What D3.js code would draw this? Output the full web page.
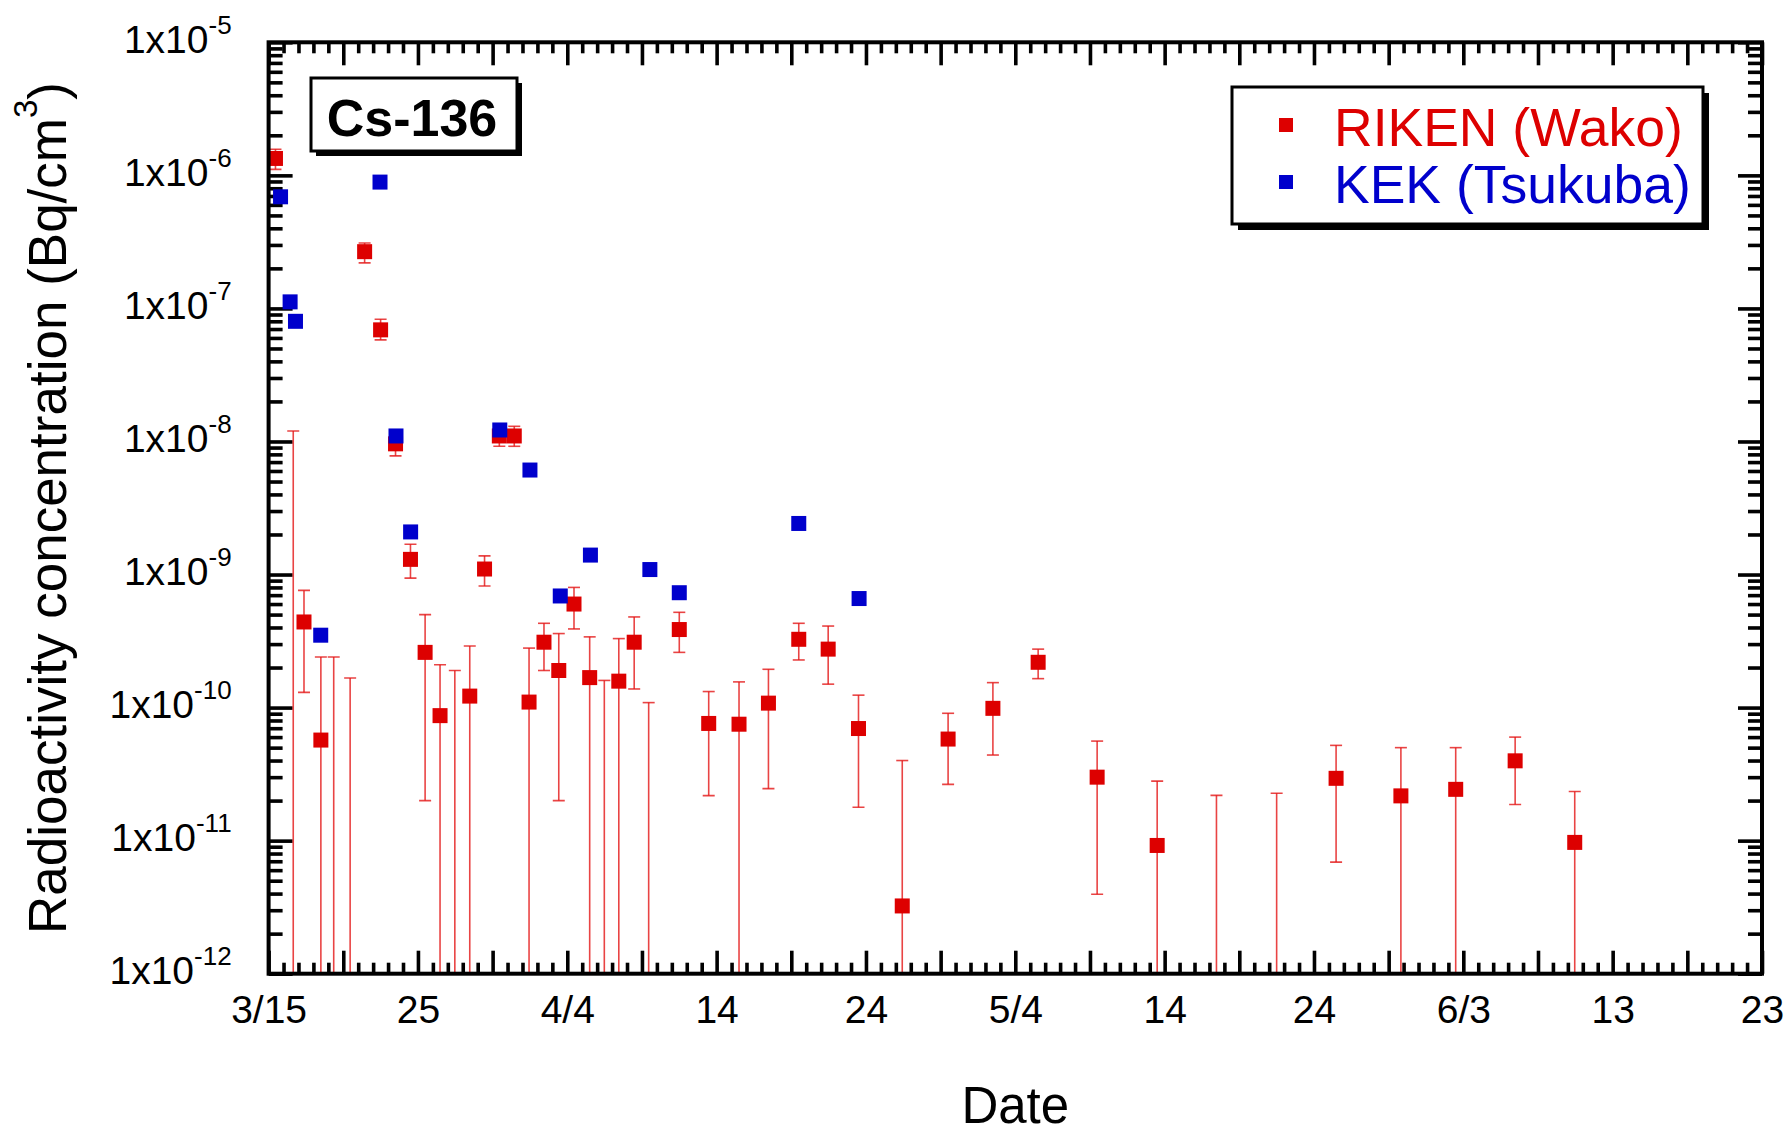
<!DOCTYPE html>
<html><head><meta charset="utf-8">
<script src="https://cdn.jsdelivr.net/npm/d3@7"></script>
<style>
body{margin:0;background:#fff}
svg{display:block}
text{font-family:"Liberation Sans",Arial,Helvetica,sans-serif}
</style>
</head><body>
<svg id="c" width="1792" height="1134"></svg>
<script>
// ---- tick labels ----
const xTickDays = [0,10,20,30,40,50,60,70,80,90,100];
const xTickLabels = ["3/15","25","4/4","14","24","5/4","14","24","6/3","13","23"];
const yTickExponents = [-12,-11,-10,-9,-8,-7,-6,-5];

// ---- RIKEN (Wako): days since 3/15, value, upper and lower error bounds (0 = below axis) ----
const rikenDay = [0.46,1.65,2.37,3.5,4.36,5.46,6.43,7.5,8.5,9.5,10.48,11.48,12.47,13.47,14.46,15.45,16.45,17.44,18.44,19.43,20.45,21.5,22.48,23.45,24.48,25.45,27.5,29.47,31.5,33.47,35.5,37.47,39.5,42.43,45.5,48.5,51.53,55.48,59.5,63.47,67.5,71.48,75.82,79.49,83.47,87.46];
const rikenValue = [1.34e-6,null,4.4e-10,5.7e-11,null,null,2.67e-7,6.9e-8,9.6e-9,1.3e-9,2.6e-10,8.7e-11,null,1.22e-10,1.1e-9,1.1e-8,1.1e-8,1.1e-10,3.1e-10,1.9e-10,6.0e-10,1.68e-10,null,1.58e-10,3.1e-10,null,3.86e-10,7.6e-11,7.5e-11,1.08e-10,3.26e-10,2.75e-10,6.96e-11,3.23e-12,5.8e-11,9.87e-11,2.19e-10,3.0e-11,9.2e-12,null,null,2.94e-11,2.17e-11,2.43e-11,3.98e-11,9.7e-12];
const rikenUpper = [1.57e-6,1.2e-8,7.6e-10,2.4e-10,2.4e-10,1.67e-10,3.1e-7,8.3e-8,1.15e-8,1.69e-9,5.0e-10,2.1e-10,1.9e-10,2.9e-10,1.38e-9,1.3e-8,1.3e-8,2.8e-10,4.3e-10,3.6e-10,8.0e-10,3.4e-10,1.6e-10,3.3e-10,4.8e-10,1.09e-10,5.2e-10,1.32e-10,1.56e-10,1.94e-10,4.3e-10,4.1e-10,1.24e-10,4.0e-11,9.06e-11,1.54e-10,2.75e-10,5.6e-11,2.8e-11,2.19e-11,2.27e-11,5.2e-11,5.0e-11,5.0e-11,6.0e-11,2.34e-11];
const rikenLower = [1.11e-6,0,1.3e-10,0,0,0,2.2e-7,5.8e-8,7.8e-9,9.4e-10,2.0e-11,0,0,0,8.2e-10,9.2e-9,9.2e-9,0,1.9e-10,2.0e-11,3.9e-10,0,0,0,1.38e-10,0,2.6e-10,2.18e-11,0,2.46e-11,2.28e-10,1.5e-10,1.78e-11,0,2.65e-11,4.4e-11,1.65e-10,3.95e-12,0,0,0,6.9e-12,0,0,1.87e-11,0];

// ---- KEK (Tsukuba) ----
const kekDay = [0.8,1.44,1.8,3.49,7.46,8.53,9.51,15.48,17.5,19.53,21.55,25.53,27.5,35.5,39.54];
const kekValue = [6.9e-7,1.12e-7,8.0e-8,3.5e-10,8.9e-7,1.1e-8,2.09e-9,1.22e-8,6.1e-9,6.9e-10,1.4e-9,1.09e-9,7.3e-10,2.42e-9,6.6e-10];

const seriesNames = ["RIKEN (Wako)","KEK (Tsukuba)"];
const RED = "#dd0000", BLUE = "#0000cc";

const svg = d3.select("#c");
const L = 268.6, R = 1762, T = 42.3, B = 973.7;
const x = d3.scaleLinear().domain([0,100]).range([L,R]);
const y = d3.scaleLog().domain([1e-12,1e-5]).range([B,T]);

// ---- ticks ----
const majorDays = d3.range(0,101,5);
const minorDays = d3.range(0,101).filter(d => d % 5 !== 0);
const decades = yTickExponents.map(e => Math.pow(10,e));
const minorVals = [];
yTickExponents.slice(0,-1).forEach(e => { for (let m=2;m<=9;m++) minorVals.push(m*Math.pow(10,e)); });

function styleAxis(g){
  g.select(".domain").remove();
  g.selectAll(".tick line").attr("stroke","#000").attr("stroke-width",3.6);
}
const labelOf = d => { const i = xTickDays.indexOf(d); return i >= 0 ? xTickLabels[i] : ""; };

const gxb = svg.append("g").attr("transform",`translate(0,${B})`)
  .call(d3.axisBottom(x).tickValues(majorDays).tickSize(-23).tickFormat(labelOf));
styleAxis(gxb);
gxb.selectAll(".tick text").attr("y",49).attr("dy",0).attr("font-size",39).attr("fill","#000")
  .style("font-family","'Liberation Sans',Arial,sans-serif");
styleAxis(svg.append("g").attr("transform",`translate(0,${B})`)
  .call(d3.axisBottom(x).tickValues(minorDays).tickSize(-11).tickFormat("")));
styleAxis(svg.append("g").attr("transform",`translate(0,${T})`)
  .call(d3.axisTop(x).tickValues(majorDays).tickSize(-23).tickFormat("")));
styleAxis(svg.append("g").attr("transform",`translate(0,${T})`)
  .call(d3.axisTop(x).tickValues(minorDays).tickSize(-11).tickFormat("")));

const gyl = svg.append("g").attr("transform",`translate(${L},0)`)
  .call(d3.axisLeft(y).tickValues(decades).tickSize(-24).tickFormat(""));
styleAxis(gyl);
gyl.selectAll(".tick text").each(function(d,i){
  const t = d3.select(this).text(null).attr("x",-37).attr("dy",0).attr("y",10)
    .attr("text-anchor","end").attr("fill","#000").attr("font-size",39)
    .style("font-family","'Liberation Sans',Arial,sans-serif");
  t.append("tspan").text("1x10");
  t.append("tspan").attr("dy",-19).attr("font-size",26).text(String(yTickExponents[i]));
});
styleAxis(svg.append("g").attr("transform",`translate(${L},0)`)
  .call(d3.axisLeft(y).tickValues(minorVals).tickSize(-14).tickFormat("")));
styleAxis(svg.append("g").attr("transform",`translate(${R},0)`)
  .call(d3.axisRight(y).tickValues(decades).tickSize(-24).tickFormat("")));
styleAxis(svg.append("g").attr("transform",`translate(${R},0)`)
  .call(d3.axisRight(y).tickValues(minorVals).tickSize(-14).tickFormat("")));

// ---- clip ----
svg.append("clipPath").attr("id","plot").append("rect")
  .attr("x",L).attr("y",T).attr("width",R-L).attr("height",B-T);
const plot = svg.append("g").attr("clip-path","url(#plot)");

// ---- error bars ----
const riken = rikenDay.map((d,i)=>({d, v:rikenValue[i], hi:rikenUpper[i], lo:rikenLower[i]}));
const eb = plot.append("g").attr("stroke","#e41515").attr("stroke-opacity",0.8).attr("stroke-width",1.6).attr("fill","none");
riken.forEach(p=>{
  const cx = x(p.d), yt = y(p.hi), yb = p.lo > 0 ? y(p.lo) : B + 5;
  eb.append("line").attr("x1",cx).attr("x2",cx).attr("y1",yt).attr("y2",yb);
  eb.append("line").attr("x1",cx-6).attr("x2",cx+6).attr("y1",yt).attr("y2",yt);
  if (p.lo > 0) eb.append("line").attr("x1",cx-6).attr("x2",cx+6).attr("y1",yb).attr("y2",yb);
});

// ---- markers ----
const S = 15;
plot.append("g").selectAll("rect").data(riken.filter(p=>p.v!==null)).join("rect")
  .attr("x",p=>x(p.d)-S/2).attr("y",p=>y(p.v)-S/2).attr("width",S).attr("height",S).attr("fill",RED);
plot.append("g").selectAll("rect").data(kekDay.map((d,i)=>({d,v:kekValue[i]}))).join("rect")
  .attr("x",p=>x(p.d)-S/2).attr("y",p=>y(p.v)-S/2).attr("width",S).attr("height",S).attr("fill",BLUE);

// ---- frame ----
svg.append("rect").attr("x",L).attr("y",T).attr("width",R-L).attr("height",B-T)
  .attr("fill","none").attr("stroke","#000").attr("stroke-width",4);

// ---- title box ----
function shadowBox(x0,y0,w,h,off){
  svg.append("rect").attr("x",x0+off).attr("y",y0+off).attr("width",w).attr("height",h).attr("fill","#000");
  svg.append("rect").attr("x",x0).attr("y",y0).attr("width",w).attr("height",h).attr("fill","#fff").attr("stroke","#000").attr("stroke-width",3);
}
shadowBox(311,78,206,73,5);
svg.append("text").attr("x",412).attr("y",136).attr("text-anchor","middle")
  .attr("font-size",52).attr("font-weight","bold").text("Cs-136");

// ---- legend ----
shadowBox(1232,87,471,137,6);
[RED,BLUE].forEach((c,i)=>{
  svg.append("rect").attr("x",1279).attr("y",118+i*57).attr("width",14).attr("height",14).attr("fill",c);
  svg.append("text").attr("x",1334).attr("y",146+i*57).attr("font-size",53.5).attr("fill",c).text(seriesNames[i]);
});

// ---- axis titles ----
svg.append("text").attr("x",(L+R)/2).attr("y",1123).attr("text-anchor","middle").attr("font-size",51).text("Date");
const yl = svg.append("text").attr("transform",`translate(66,${(T+B)/2}) rotate(-90)`)
  .attr("text-anchor","middle").attr("font-size",53);
yl.append("tspan").text("Radioactivity concentration (Bq/cm");
yl.append("tspan").attr("dy",-29).attr("font-size",33).text("3");
yl.append("tspan").attr("dy",29).text(")");
</script>
</body></html>
